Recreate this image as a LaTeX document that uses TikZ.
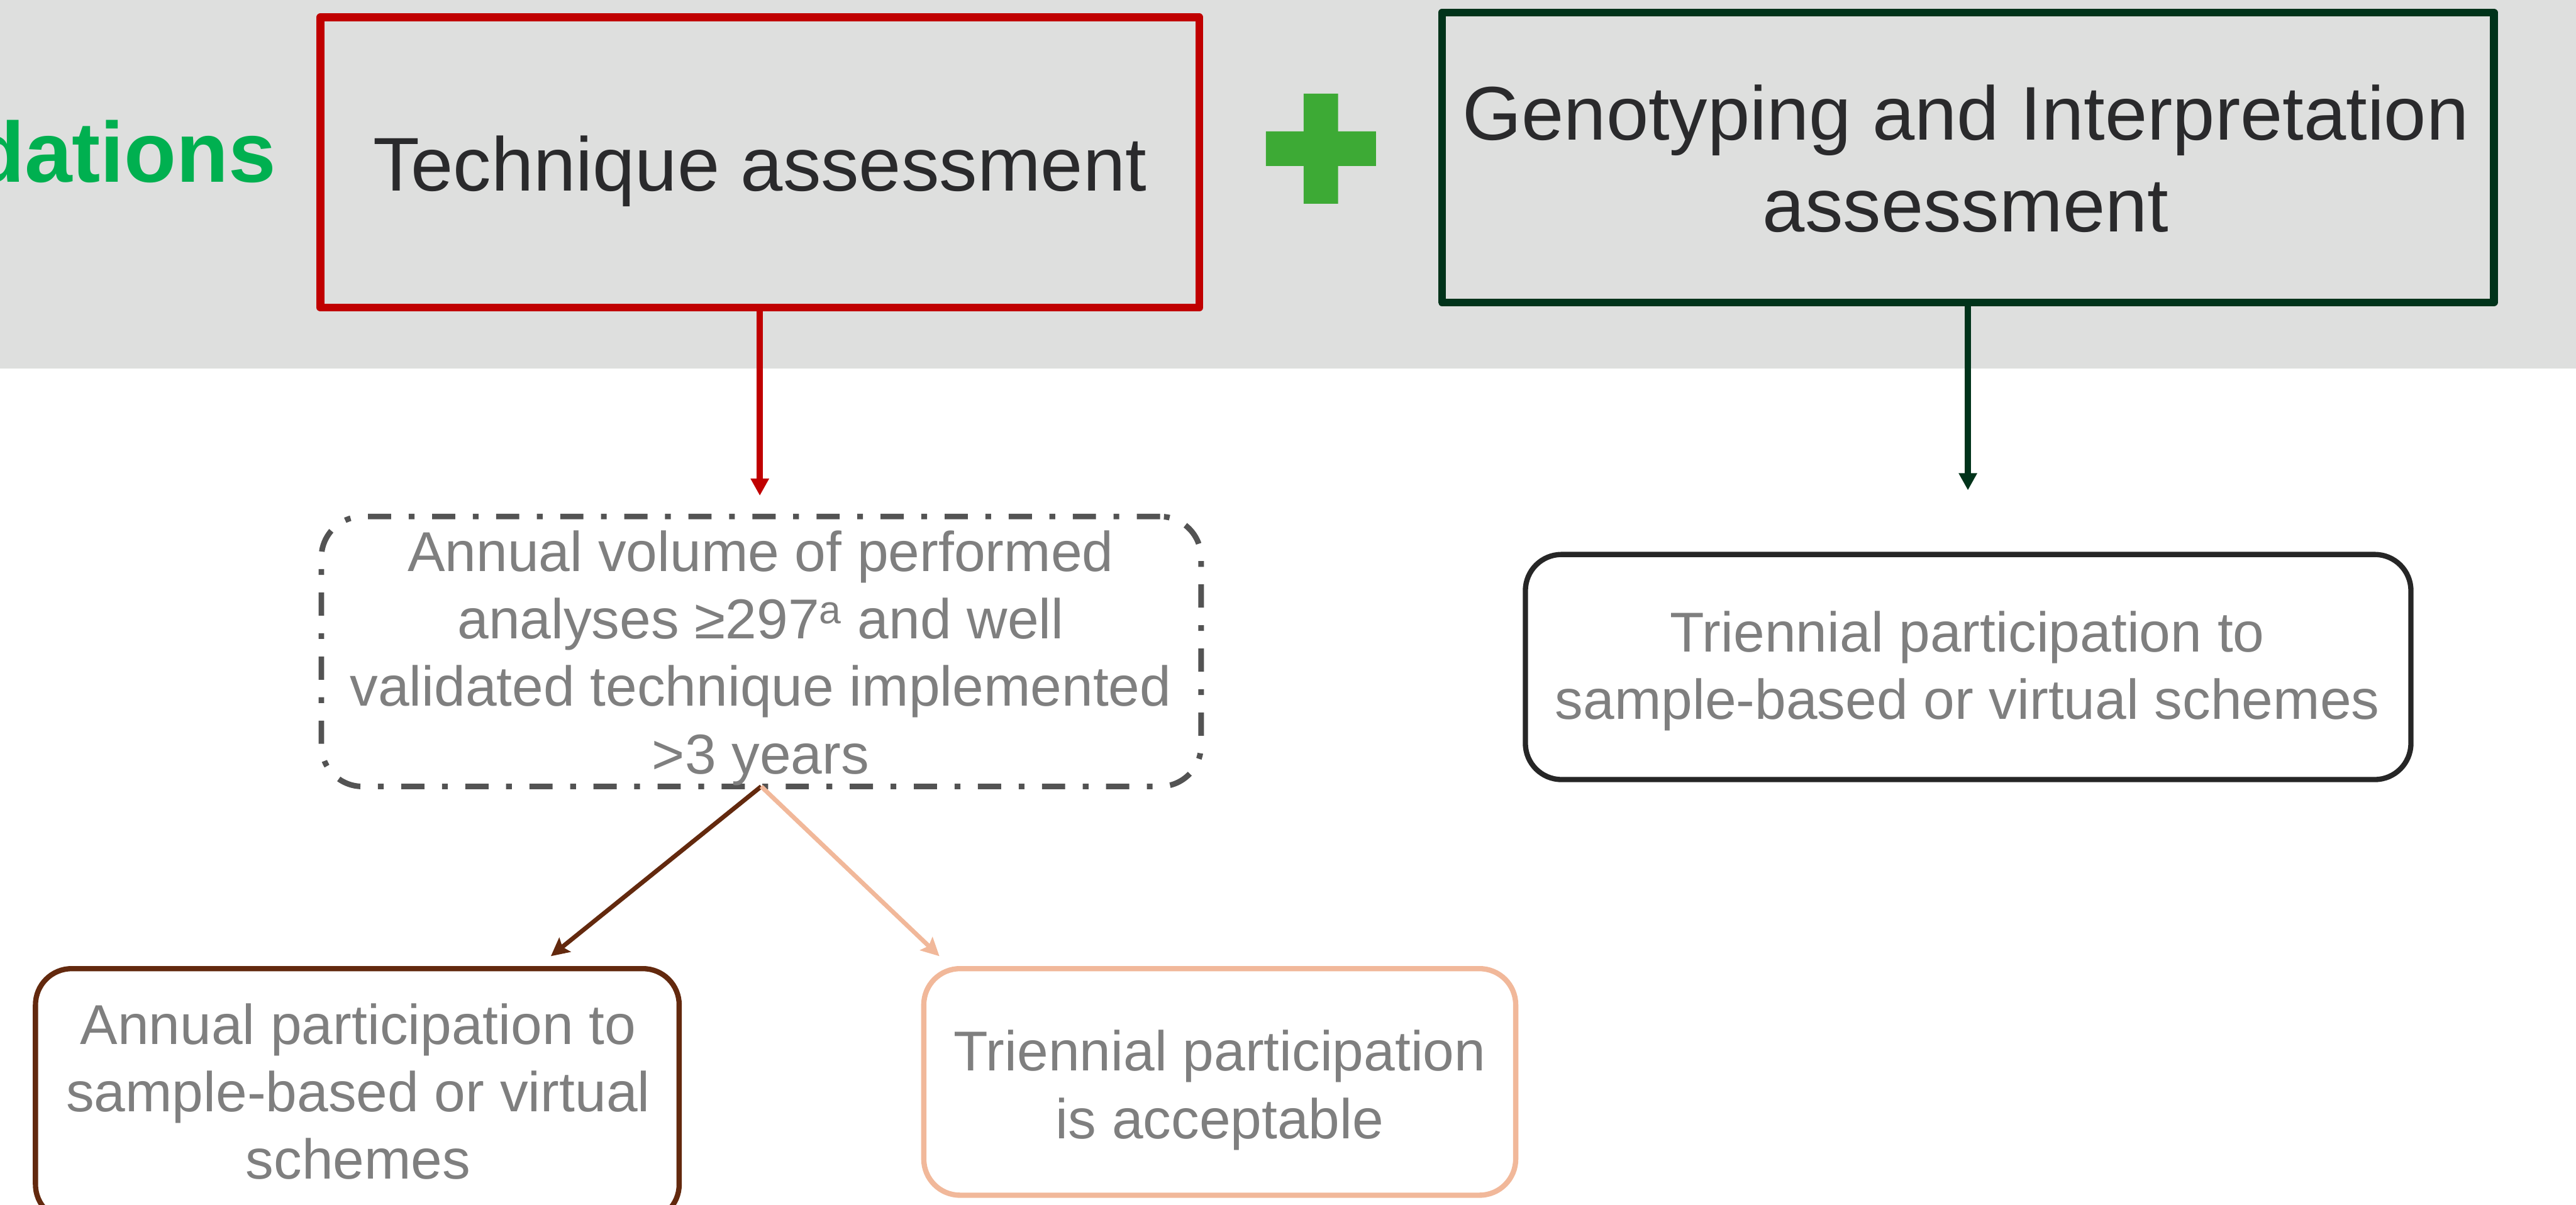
\documentclass[tikz,border=0pt]{standalone}
\usepackage{fontspec}
\setmainfont{Liberation Sans}
\usetikzlibrary{arrows.meta}
\definecolor{bandgray}{RGB}{222,223,222}
\definecolor{techred}{RGB}{192,0,0}
\definecolor{genogreen}{RGB}{0,51,26}
\definecolor{plusgreen}{RGB}{61,170,53}
\definecolor{recgreen}{RGB}{0,176,80}
\definecolor{titletext}{RGB}{42,42,44}
\definecolor{textgray}{RGB}{127,127,127}
\definecolor{dashgray}{RGB}{83,83,83}
\definecolor{boxdark}{RGB}{38,38,38}
\definecolor{brownc}{RGB}{99,41,14}
\definecolor{peachc}{RGB}{241,184,154}
\newcommand{\gTop}{\rule{0pt}{30pt}}
\newcommand{\gBot}{\rule[-10pt]{0pt}{10pt}}
\newcommand{\hTop}{\rule{0pt}{40pt}}
\newcommand{\hBot}{\rule[-13pt]{0pt}{13pt}}
\begin{document}
\begin{tikzpicture}[x=1pt,y=-1pt,
  sqbox/.style={draw, rectangle, inner sep=0pt, outer sep=0pt, line width=4.7pt, line join=round},
  rndbox/.style={draw, rectangle, rounded corners=22pt, inner sep=0pt, outer sep=0pt, line width=3.2pt},
  gtext/.style={text=textgray, font=\fontsize{34.2pt}{41.1pt}\selectfont, align=center, inner sep=0pt},
  htext/.style={text=titletext, font=\fontsize{46.3pt}{56pt}\selectfont, align=center, inner sep=0pt},
  tarrow/.style={line width=3.6pt, -{Triangle[length=10.4pt,width=10.6pt]}},
  sarrow/.style={line width=2.7pt, -{Stealth[length=11pt,width=11pt,inset=2pt]}}
]
\useasboundingbox (0,0) rectangle (1568,733.4);
% grey band
\fill[bandgray] (0,0) rectangle (1568,224.4);
% green title (cut at the left edge, as in the reference)
\node[font=\fontsize{52pt}{62pt}\selectfont\bfseries, text=recgreen, anchor=base west, inner sep=0pt] (rec) at (-17,110.7) {dations};
% top boxes
\node[sqbox, draw=techred, minimum width=535pt, minimum height=176.7pt] (tech) at (462.5,98.85) {};
\node[htext, anchor=base] (techtxt) at (462.5,116.2) {Technique assessment};
\node[sqbox, draw=genogreen, minimum width=640.3pt, minimum height=176.3pt] (geno) at (1197.85,95.85) {};
\node[htext] (genotxt) at (1196.5,99.5) {\hTop Genotyping and Interpretation\\assessment\hBot};
% plus sign
\fill[plusgreen] (770.5,80) rectangle (837.5,101) (793.5,57) rectangle (814.5,124);
% dashed box
\node[draw=dashgray, rectangle, rounded corners=25pt, inner sep=0pt, outer sep=0pt, line width=3.4pt,
  dash pattern=on 14.1pt off 10.7pt on 3.5pt off 10.7pt,
  minimum width=535.5pt, minimum height=164.3pt] (vol) at (463.35,396.55) {};
\node[gtext] (voltxt) at (463,399.3) {\gTop Annual volume of performed\\analyses ≥297\textsuperscript{a} and well\\validated technique implemented\\>3 years\gBot};
% right box
\node[rndbox, draw=boxdark, minimum width=539pt, minimum height=137pt] (rbox) at (1198,406) {};
\node[gtext] (rtxt) at (1197.5,407.35) {\gTop Triennial participation to\\sample-based or virtual schemes\gBot};
% bottom boxes
\node[rndbox, draw=brownc, minimum width=391.8pt, minimum height=153.4pt] (annual) at (217.5,666.3) {};
\node[gtext] (annualtxt) at (218,666.6) {\gTop Annual participation to\\sample-based or virtual\\schemes\gBot};
\node[rndbox, draw=peachc, minimum width=360.3pt, minimum height=137.9pt] (tri) at (742.45,658.55) {};
\node[gtext] (tritxt) at (742.5,662.45) {\gTop Triennial participation\\is acceptable\gBot};
% arrows
\draw[tarrow, techred, shorten >=12.7pt] (tech.south) -- (tech.south |- vol.north);
\draw[tarrow, genogreen, shorten >=39.1pt] (geno.south) -- (geno.south |- rbox.north);
\coordinate (brtip) at (335.3,582);
\coordinate (petip) at (571.8,582);
\draw[sarrow, brownc] (vol.south) -- (brtip);
\draw[sarrow, peachc] (vol.south) -- (petip);
\end{tikzpicture}
\end{document}
